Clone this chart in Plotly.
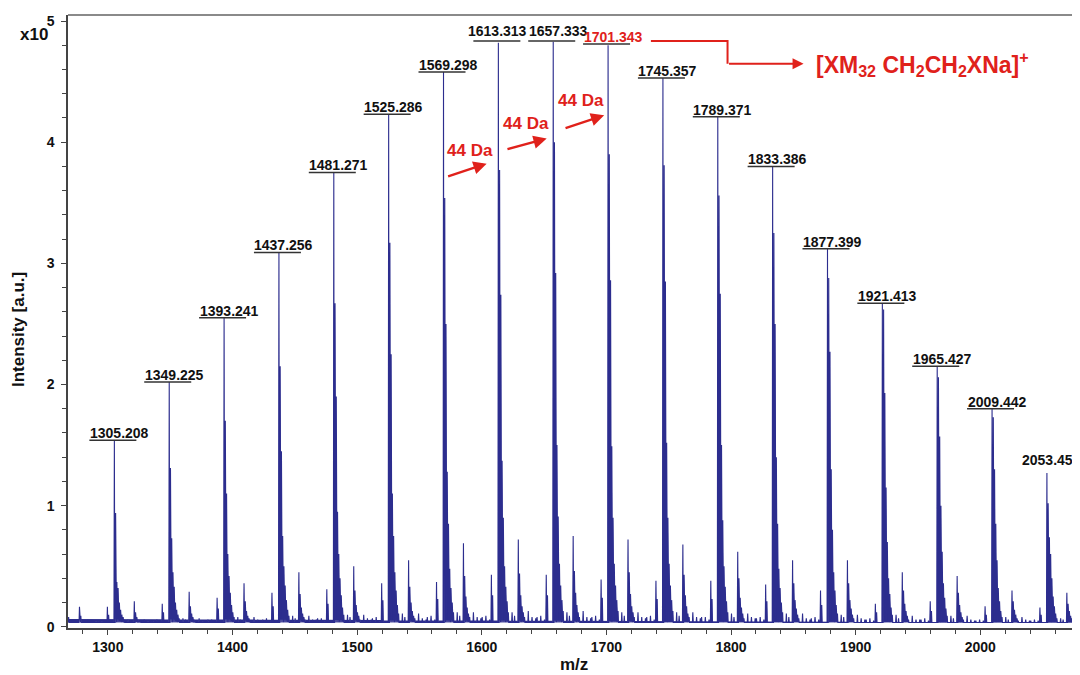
import plotly.graph_objects as go

# ---------------- data (intensity in units of 1e5) ----------------
peak_mz = [1305.208, 1349.225, 1393.241, 1437.256, 1481.271, 1525.286, 1569.298,
           1613.313, 1657.333, 1701.343, 1745.357, 1789.371, 1833.386, 1877.399,
           1921.413, 1965.427, 2009.442, 2053.456]
peak_labels = ["1305.208", "1349.225", "1393.241", "1437.256", "1481.271", "1525.286",
               "1569.298", "1613.313", "1657.333", "1701.343", "1745.357", "1789.371",
               "1833.386", "1877.399", "1921.413", "1965.427", "2009.442", "2053.456"]
label_level = [1.54, 2.02, 2.55, 3.09, 3.75, 4.23, 4.58, 4.835, 4.835, 4.81, 4.53,
               4.21, 3.80, 3.12, 2.67, 2.15, 1.80, 1.375]

# isotope envelope of each cluster, heights at M+0 ... M+8
iso_offsets = [0, 1, 2, 3, 4, 5, 6, 7, 8]
cluster_env = [
    [1.54, 0.94, 0.37, 0.32, 0.20, 0.14, 0.10, 0.08, 0.06],
    [2.02, 1.31, 0.73, 0.45, 0.33, 0.20, 0.14, 0.10, 0.07],
    [2.55, 1.70, 1.10, 0.60, 0.42, 0.28, 0.18, 0.12, 0.08],
    [3.09, 2.15, 1.45, 0.75, 0.50, 0.34, 0.22, 0.14, 0.09],
    [3.75, 2.67, 1.90, 0.95, 0.60, 0.40, 0.26, 0.16, 0.10],
    [4.23, 3.17, 2.25, 1.10, 0.75, 0.45, 0.30, 0.18, 0.11],
    [4.58, 3.54, 2.50, 1.28, 0.85, 0.48, 0.32, 0.20, 0.12],
    [4.82, 3.77, 2.74, 1.37, 0.90, 0.50, 0.33, 0.21, 0.12],
    [4.83, 4.00, 2.92, 1.50, 0.91, 0.52, 0.34, 0.22, 0.13],
    [4.80, 3.90, 2.86, 1.49, 0.90, 0.52, 0.34, 0.22, 0.13],
    [4.53, 3.81, 2.85, 1.52, 0.90, 0.52, 0.34, 0.22, 0.13],
    [4.21, 3.56, 2.75, 1.50, 0.88, 0.50, 0.33, 0.21, 0.12],
    [3.80, 3.25, 2.50, 1.40, 0.85, 0.48, 0.32, 0.20, 0.12],
    [3.12, 2.88, 2.27, 1.30, 0.80, 0.45, 0.30, 0.18, 0.11],
    [2.67, 2.62, 1.93, 1.15, 0.70, 0.40, 0.27, 0.16, 0.10],
    [2.15, 2.06, 1.57, 1.00, 0.62, 0.36, 0.24, 0.15, 0.09],
    [1.80, 1.73, 1.30, 0.85, 0.55, 0.32, 0.21, 0.13, 0.08],
    [1.27, 1.02, 0.74, 0.60, 0.40, 0.25, 0.17, 0.11, 0.07],
]

# small satellite just before each cluster (M-5.6, M-4.6)
pre_offsets = [-5.6, -4.6]
pre_env = [
    [0.165, 0.10], [0.19, 0.12], [0.24, 0.15], [0.28, 0.17], [0.31, 0.19], [0.36, 0.22],
    [0.37, 0.23], [0.43, 0.26], [0.43, 0.26], [0.39, 0.24], [0.38, 0.23], [0.38, 0.23],
    [0.35, 0.21], [0.30, 0.18], [0.19, 0.12], [0.21, 0.13], [0.17, 0.10], [0.16, 0.10],
]

# satellite series after each cluster (M+16 ... M+21)
post_offsets = [16, 17, 18, 19, 20, 21]
post_env = [
    [0.21, 0.12, 0.08, 0.06, 0.05, 0.04],
    [0.29, 0.17, 0.11, 0.08, 0.06, 0.05],
    [0.36, 0.21, 0.13, 0.09, 0.07, 0.05],
    [0.45, 0.27, 0.16, 0.11, 0.08, 0.06],
    [0.50, 0.30, 0.18, 0.12, 0.09, 0.06],
    [0.55, 0.33, 0.20, 0.13, 0.09, 0.07],
    [0.69, 0.42, 0.25, 0.16, 0.11, 0.08],
    [0.72, 0.44, 0.26, 0.17, 0.12, 0.08],
    [0.75, 0.46, 0.28, 0.18, 0.12, 0.08],
    [0.72, 0.45, 0.27, 0.17, 0.12, 0.08],
    [0.68, 0.43, 0.26, 0.17, 0.11, 0.08],
    [0.62, 0.40, 0.24, 0.16, 0.11, 0.07],
    [0.55, 0.36, 0.22, 0.15, 0.10, 0.07],
    [0.55, 0.36, 0.22, 0.15, 0.10, 0.07],
    [0.45, 0.30, 0.19, 0.13, 0.09, 0.06],
    [0.42, 0.28, 0.18, 0.12, 0.08, 0.06],
    [0.30, 0.21, 0.14, 0.10, 0.07, 0.05],
    [0.28, 0.19, 0.13, 0.09, 0.07, 0.05],
]

# minor baseline peaks around each cluster
minor_offsets = [-13, -10, 11, 13, 24, 27, 30, 37]
minor_env = [
    [0.05, 0.05, 0.06, 0.05, 0.06, 0.05, 0.05, 0.05],
    [0.05, 0.06, 0.07, 0.06, 0.07, 0.05, 0.05, 0.05],
    [0.06, 0.06, 0.08, 0.06, 0.08, 0.06, 0.05, 0.05],
    [0.06, 0.07, 0.09, 0.07, 0.09, 0.06, 0.06, 0.05],
    [0.07, 0.07, 0.10, 0.08, 0.10, 0.07, 0.06, 0.05],
    [0.07, 0.08, 0.11, 0.08, 0.11, 0.07, 0.06, 0.06],
    [0.08, 0.09, 0.12, 0.09, 0.12, 0.08, 0.07, 0.06],
    [0.08, 0.09, 0.12, 0.09, 0.13, 0.08, 0.07, 0.06],
    [0.08, 0.09, 0.12, 0.09, 0.13, 0.08, 0.07, 0.06],
    [0.08, 0.09, 0.12, 0.09, 0.12, 0.08, 0.07, 0.06],
    [0.08, 0.09, 0.12, 0.09, 0.12, 0.08, 0.07, 0.06],
    [0.08, 0.08, 0.11, 0.08, 0.11, 0.08, 0.07, 0.06],
    [0.07, 0.08, 0.11, 0.08, 0.11, 0.07, 0.06, 0.06],
    [0.07, 0.08, 0.10, 0.08, 0.10, 0.07, 0.06, 0.05],
    [0.06, 0.07, 0.10, 0.07, 0.09, 0.06, 0.06, 0.05],
    [0.06, 0.07, 0.09, 0.07, 0.09, 0.06, 0.05, 0.05],
    [0.05, 0.06, 0.08, 0.06, 0.08, 0.06, 0.05, 0.05],
    [0.05, 0.06, 0.07, 0.06, 0.07, 0.05, 0.05, 0.05],
]

extra_mz = [1268.5, 1277.2, 1278.3, 1283.0, 1290.5]
extra_h = [0.08, 0.165, 0.09, 0.06, 0.05]
baseline = 0.035

highlight_label = "1701.343"
formula_text = "[XM<sub>32</sub> CH<sub>2</sub>CH<sub>2</sub>XNa]<sup>+</sup>"
delta_text = "44 Da"

# ---------------- build the profile from the stick list ----------------
sticks = []
for i, m in enumerate(peak_mz):
    for off, h in zip(iso_offsets, cluster_env[i]):
        sticks.append((m + off, h))
    for off, h in zip(pre_offsets, pre_env[i]):
        sticks.append((m + off, h))
    for off, h in zip(post_offsets, post_env[i]):
        sticks.append((m + off, h))
    for off, h in zip(minor_offsets, minor_env[i]):
        sticks.append((m + off, h))
for m, h in zip(extra_mz, extra_h):
    sticks.append((m, h))
sticks.sort()

hw = 0.34
xs, ys = [1268.0], [baseline + 0.03]
for m, h in sticks:
    if m - hw < 1268 or m + hw > 2080:
        continue
    xs += [m - hw, m, m + hw]
    ys += [baseline, h, baseline]
xs.append(2080.0)
ys.append(baseline)

BLUE = "#2c2d8e"
RED = "#e0211b"
FONT = "Liberation Sans, Arial, Helvetica, sans-serif"

fig = go.Figure()
fig.add_trace(go.Scatter(x=xs, y=ys, mode="lines", line=dict(color=BLUE, width=1.1),
                         fill="toself", fillcolor=BLUE, hoverinfo="skip", showlegend=False))

annotations = []
shapes = []

# peak labels with underline
for m, lab, ly in zip(peak_mz, peak_labels, label_level):
    color = RED if lab == highlight_label else "#111111"
    if lab == "2053.456":
        annotations.append(dict(x=m, y=ly, xref="x", yref="y", text="<b>%s</b>" % lab,
                                showarrow=False, xshift=5, font=dict(family=FONT, size=14, color=color)))
        continue
    dx = -1 if lab == "1613.313" else 5
    dy = 10 if lab in ("1613.313", "1657.333") else 7
    annotations.append(dict(x=m, y=ly, xref="x", yref="y", text="<b>%s</b>" % lab,
                            showarrow=False, xshift=dx, yshift=dy, yanchor="middle",
                            font=dict(family=FONT, size=14, color=color)))
    shapes.append(dict(type="line", xref="x", yref="y", xsizemode="pixel", xanchor=m,
                       x0=-25, x1=22, y0=ly, y1=ly, line=dict(color="#333333", width=1.5)))

# 44 Da arrows
arrows = [((1571.8, 3.713), (1603.9, 3.823), (1590.5, 3.93)),
          ((1619.4, 3.939), (1652.1, 4.030), (1635.7, 4.153)),
          ((1666.0, 4.112), (1698.2, 4.222), (1679.7, 4.346))]
for (tx, ty), (hx, hy), (lx, ly) in arrows:
    annotations.append(dict(x=hx, y=hy, ax=tx, ay=ty, xref="x", yref="y", axref="x", ayref="y",
                            text="", showarrow=True, arrowhead=2, arrowsize=1.1, arrowwidth=2.4,
                            arrowcolor=RED))
    annotations.append(dict(x=lx, y=ly, xref="x", yref="y", text="<b>%s</b>" % delta_text,
                            showarrow=False, font=dict(family=FONT, size=17, color=RED)))

# connector from 1701.343 to formula
shapes.append(dict(type="path", xref="x", yref="y",
                   path="M 1735.7,4.835 L 1797.2,4.835 L 1797.2,4.648",
                   line=dict(color=RED, width=2)))
annotations.append(dict(x=1858.2, y=4.648, ax=1797.2, ay=4.648, xref="x", yref="y",
                        axref="x", ayref="y", text="", showarrow=True, arrowhead=2,
                        arrowsize=1.1, arrowwidth=2, arrowcolor=RED))
annotations.append(dict(x=1866.5, y=4.648, xref="x", yref="y", xanchor="left", yanchor="middle",
                        text="<b>%s</b>" % formula_text, showarrow=False,
                        font=dict(family=FONT, size=23, color=RED)))

# axis titles and multiplier
annotations.append(dict(x=0, y=1, xref="paper", yref="paper", xshift=-34, yshift=-19,
                        text="<b>x10</b>", showarrow=False, xanchor="center", yanchor="middle",
                        font=dict(family=FONT, size=17, color="#111111")))
annotations.append(dict(x=0.5, y=0, xref="paper", yref="paper", yshift=-36,
                        text="<b>m/z</b>", showarrow=False, yanchor="middle",
                        font=dict(family=FONT, size=17, color="#111111")))
annotations.append(dict(x=0, y=0.486, xref="paper", yref="paper", xshift=-50,
                        text="<b>Intensity [a.u.]</b>", showarrow=False, textangle=-90,
                        xanchor="center", yanchor="middle",
                        font=dict(family=FONT, size=17, color="#111111")))

# top frame line
shapes.append(dict(type="line", xref="paper", yref="paper", x0=0, x1=1, y0=1, y1=1,
                   line=dict(color="#8a8a8a", width=2)))

# the page places the figure 8 px in from the top-left corner
fig.update_layout(
    width=1072, height=667,
    margin=dict(l=60, r=0, t=7, b=47),
    paper_bgcolor="white", plot_bgcolor="white",
    showlegend=False,
    annotations=annotations, shapes=shapes,
    xaxis=dict(range=[1268, 2080], tick0=0, dtick=100, ticks="outside", ticklen=5,
               tickwidth=1.2, tickcolor="#444", showline=True, linecolor="#444", linewidth=1.5,
               showgrid=False, zeroline=False,
               tickfont=dict(family=FONT, size=14, color="#111111", weight="bold"),
               minor=dict(tick0=0, dtick=20, ticks="outside", ticklen=4, tickcolor="#444",
                          tickwidth=1, showgrid=False)),
    yaxis=dict(range=[-0.01, 5.05], tick0=0, dtick=1, ticks="outside", ticklen=5,
               tickwidth=1.2, tickcolor="#444", showline=True, linecolor="#444", linewidth=1.5,
               showgrid=False, zeroline=False, ticklabelstandoff=4,
               tickfont=dict(family=FONT, size=14, color="#111111", weight="bold"),
               minor=dict(tick0=0, dtick=0.2, ticks="outside", ticklen=4, tickcolor="#444",
                          tickwidth=1, showgrid=False)),
)

fig.write_html("out.html")
